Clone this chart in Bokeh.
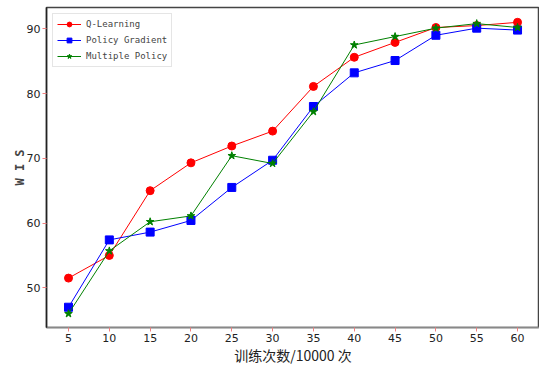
from bokeh.plotting import figure
from bokeh.models import Range1d, FixedTicker, Legend, LegendItem
from bokeh.embed import file_html
from bokeh.resources import INLINE

steps = [5, 10, 15, 20, 25, 30, 35, 40, 45, 50, 55, 60]
q_learning = [51.5, 55.0, 65.0, 69.3, 71.9, 74.2, 81.1, 85.6, 87.9, 90.2, 90.5, 91.0]
policy_gradient = [47.0, 57.4, 58.6, 60.4, 65.5, 69.7, 78.0, 83.2, 85.1, 89.0, 90.1, 89.8]
multiple_policy = [46.0, 55.7, 60.2, 61.1, 70.4, 69.2, 77.2, 87.5, 88.8, 90.1, 90.8, 90.2]
y_ticks = [50, 60, 70, 80, 90]

p = figure(frame_width=493, frame_height=320, output_backend="svg", toolbar_location=None,
           x_range=Range1d(2.305, 62.69), y_range=Range1d(43.87, 93.29),
           min_border_left=46, min_border_right=0, min_border_top=7, min_border_bottom=38)
p.grid.visible = False
p.background_fill_color = "white"
p.border_fill_color = "white"
p.outline_line_color = "#444444"
p.outline_line_width = 1.5

font = "DejaVu Sans"
for ax in (p.xaxis[0], p.yaxis[0]):
    ax.major_tick_line_color = "#f08080"
    ax.major_tick_out = 4
    ax.major_tick_in = 0
    ax.minor_tick_line_color = None
    ax.major_label_text_font = font
    ax.major_label_text_font_size = "11px"
    ax.major_label_text_color = "#222222"
p.xaxis.ticker = FixedTicker(ticks=steps)
p.yaxis.ticker = FixedTicker(ticks=y_ticks)
p.xaxis.axis_line_color = "#888888"
p.xaxis.axis_line_width = 1.5
p.yaxis.axis_line_color = "#222222"
p.yaxis.axis_line_width = 1.5
p.xaxis.major_label_standoff = 2
p.xaxis.axis_label = "训练次数/10000 次"
p.xaxis.axis_label_text_font = "Noto Sans CJK SC"
p.xaxis.axis_label_text_font_size = "14px"
p.xaxis.axis_label_text_font_style = "normal"
p.xaxis.axis_label_text_color = "#222222"
p.xaxis.axis_label_standoff = 0
p.yaxis.axis_label = "W I S"
p.yaxis.axis_label_text_font = "DejaVu Sans Mono"
p.yaxis.axis_label_text_font_style = "bold"
p.yaxis.axis_label_text_font_size = "12px"
p.yaxis.axis_label_standoff = -3
p.yaxis.major_label_standoff = 2

r1 = p.line(steps, q_learning, line_color="red", line_width=1)
s1 = p.scatter(steps, q_learning, marker="circle", size=8, color="red")
r2 = p.line(steps, policy_gradient, line_color="blue", line_width=1)
s2 = p.scatter(steps, policy_gradient, marker="square", size=8, color="blue")
r3 = p.line(steps, multiple_policy, line_color="green", line_width=1)
s3 = p.scatter(steps, multiple_policy, marker="star", size=8, color="green")

legend = Legend(items=[
    LegendItem(label="Q-Learning", renderers=[r1, s1]),
    LegendItem(label="Policy Gradient", renderers=[r2, s2]),
    LegendItem(label="Multiple Policy", renderers=[r3, s3]),
], location="top_left")
legend.label_text_font = "DejaVu Sans Mono"
legend.label_text_font_size = "9px"
legend.label_height = 12
legend.glyph_height = 12
legend.glyph_width = 24
legend.spacing = 4
legend.padding = 4
legend.margin = 6
legend.border_line_color = "#cccccc"
legend.background_fill_alpha = 0.9
p.add_layout(legend)

open("out.html", "w").write(file_html(p, INLINE))
